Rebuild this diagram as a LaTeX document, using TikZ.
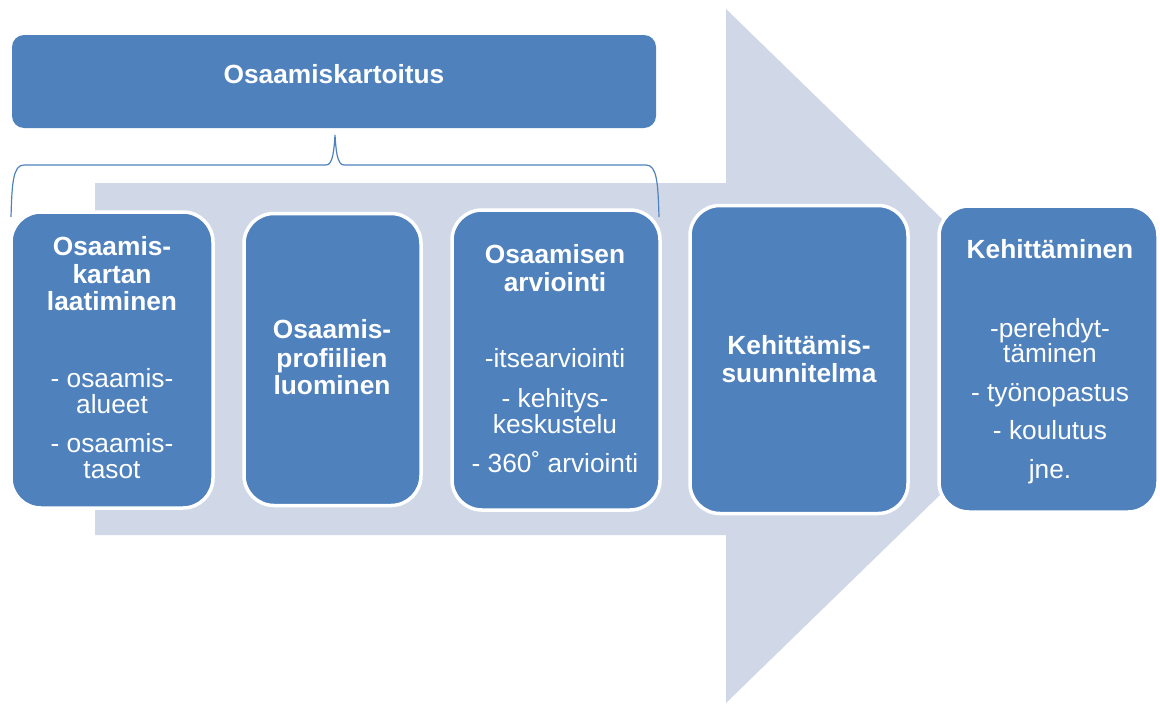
\documentclass[tikz,border=0pt]{standalone}
\usepackage{fontspec}
\setmainfont{Liberation Sans}
\definecolor{boxblue}{HTML}{4F81BD}
\definecolor{arrowgray}{HTML}{D0D8E8}
\begin{document}
\begin{tikzpicture}[x=1pt,y=-1pt,
  stepbox/.style={rectangle, rounded corners=30pt, fill=boxblue, draw=white, line width=3.5pt, inner sep=0pt},
  headbox/.style={rectangle, rounded corners=12pt, fill=boxblue, inner sep=0pt},
  hd/.style={anchor=base, text=white, inner sep=0pt, font=\fontsize{26.3}{30}\selectfont\bfseries},
  it/.style={anchor=base, text=white, inner sep=0pt, font=\fontsize{26.3}{30}\selectfont},
  bracepath/.style={draw=boxblue, line width=1.2pt}]
\useasboundingbox (0,0) rectangle (1160,704);

% big background arrow
\fill[arrowgray] (95,183) -- (726,183) -- (726,9) -- (1083,356) -- (726,703) -- (726,535) -- (95,535) -- cycle;

% heading box
\node[headbox, minimum width=644pt, minimum height=93pt] (head) at (334,81.5) {};
\node[hd] (headtxt) at (334,83) {Osaamiskartoitus};

% curly brace under the heading
\coordinate (braceL) at (11,217);
\coordinate (braceTip) at (335,135);
\coordinate (braceR) at (659,217);
\draw[bracepath] (braceL) .. controls (12,183) and (13,165) .. (24,165) -- (326,165)
  .. controls (333,165) and (334,150) .. (braceTip)
  .. controls (336,150) and (337,165) .. (344,165) -- (646,165)
  .. controls (657,165) and (658,183) .. (braceR);

% process steps
\node[stepbox, minimum width=202pt, minimum height=296pt] (b1) at (112,360) {};
\node[stepbox, minimum width=177pt, minimum height=292pt] (b2) at (332.5,359.5) {};
\node[stepbox, minimum width=208pt, minimum height=300pt] (b3) at (556,360) {};
\node[stepbox, minimum width=218pt, minimum height=308pt] (b4) at (799,359.5) {};
\node[stepbox, minimum width=219pt, minimum height=306pt] (b5) at (1048.5,359) {};

% step 1
\node[hd] (b1a) at (112,255) {Osaamis-};
\node[hd] (b1b) at (112,283) {kartan};
\node[hd] (b1c) at (112,310) {laatiminen};
\node[it] (b1d) at (112,387) {- osaamis-};
\node[it] (b1e) at (112,413) {alueet};
\node[it] (b1f) at (112,452) {- osaamis-};
\node[it] (b1g) at (112,478) {tasot};

% step 2
\node[hd] (b2a) at (332,338) {Osaamis-};
\node[hd] (b2b) at (332,367) {profiilien};
\node[hd] (b2c) at (332,394) {luominen};

% step 3
\node[hd] (b3a) at (555,263) {Osaamisen};
\node[hd] (b3b) at (555,291) {arviointi};
\node[it] (b3c) at (555,367) {-itsearviointi};
\node[it] (b3d) at (555,407) {- kehitys-};
\node[it] (b3e) at (555,433) {keskustelu};
\node[it] (b3f) at (555,472) {- 360˚ arviointi};

% step 4
\node[hd] (b4a) at (799,354) {Kehittämis-};
\node[hd] (b4b) at (799,382) {suunnitelma};

% step 5
\node[hd] (b5a) at (1050,258) {Kehittäminen};
\node[it] (b5b) at (1050,337) {-perehdyt-};
\node[it] (b5c) at (1050,362) {täminen};
\node[it] (b5d) at (1050,401) {- työnopastus};
\node[it] (b5e) at (1050,439) {- koulutus};
\node[it] (b5f) at (1050,478) {jne.};
\end{tikzpicture}
\end{document}
